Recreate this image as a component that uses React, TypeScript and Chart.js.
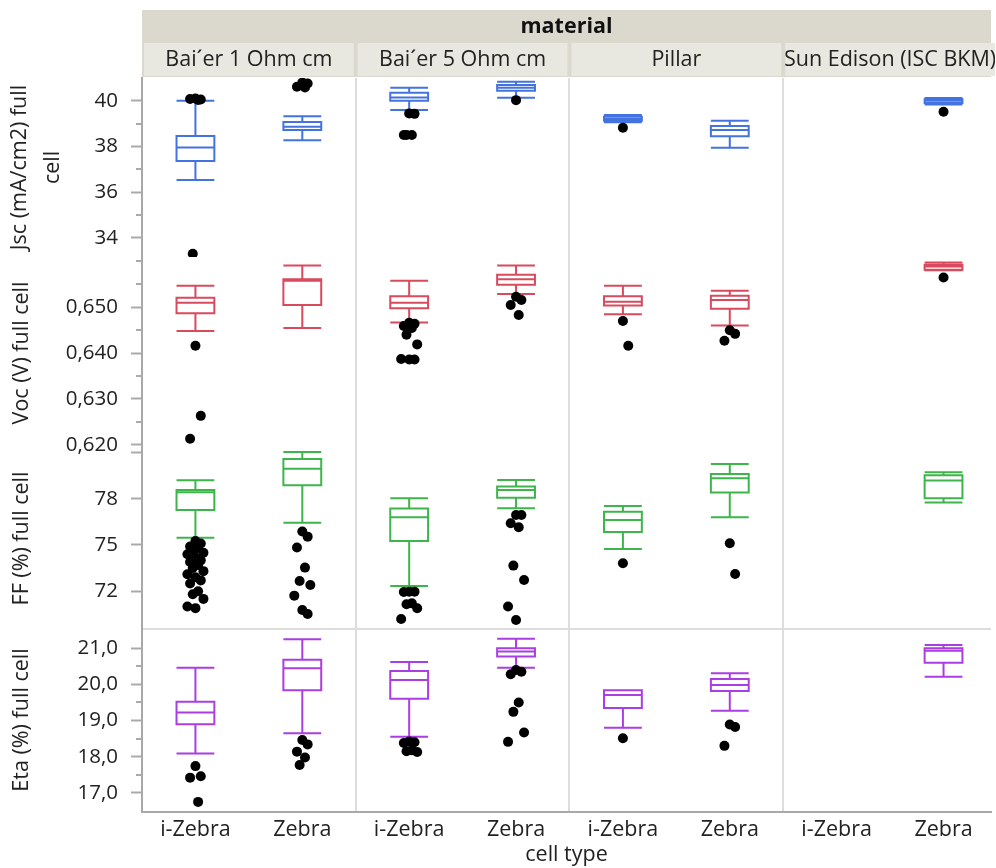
import { useEffect, useRef } from 'react';
import { Chart, registerables } from 'chart.js';

Chart.register(...registerables);

const FONT = '"Open Sans", "Noto Sans", sans-serif';

const materials = ['Bai´er 1 Ohm cm', 'Bai´er 5 Ohm cm', 'Pillar', 'Sun Edison (ISC BKM)'];
const cellTypes = ['i-Zebra', 'Zebra'];

// groups: material × cell type, in order; stats = [lowerWhisker, q1, median, q3, upperWhisker]
const jscBoxes = [
  [36.53, 37.37, 37.96, 38.46, 40.0],
  [38.27, 38.72, 38.87, 39.07, 39.33],
  [39.6, 40.0, 40.15, 40.35, 40.57],
  [40.14, 40.44, 40.57, 40.69, 40.84],
  [39.06, 39.13, 39.2, 39.3, 39.38],
  [37.95, 38.45, 38.72, 38.9, 39.13],
  null,
  [39.84, 39.9, 40.0, 40.07, 40.12],
];
const vocBoxes = [
  [0.6448, 0.6487, 0.651, 0.6521, 0.6547],
  [0.6455, 0.6505, 0.6558, 0.6561, 0.6591],
  [0.6467, 0.6498, 0.651, 0.6524, 0.6558],
  [0.6529, 0.6549, 0.6561, 0.6571, 0.6591],
  [0.6485, 0.6504, 0.6512, 0.6524, 0.6547],
  [0.646, 0.6497, 0.6516, 0.6525, 0.6536],
  null,
  [0.6581, 0.6582, 0.6589, 0.6593, 0.6598],
];
const ffBoxes = [
  [75.47, 77.27, 78.42, 78.57, 79.2],
  [76.45, 78.88, 79.94, 80.58, 81.04],
  [72.34, 75.26, 76.8, 77.36, 78.03],
  [77.38, 78.07, 78.57, 78.79, 79.22],
  [74.74, 75.84, 76.62, 77.16, 77.53],
  [76.8, 78.4, 79.33, 79.61, 80.26],
  null,
  [77.75, 78.03, 79.18, 79.53, 79.72],
];
const etaBoxes = [
  [18.09, 18.9, 19.22, 19.52, 20.46],
  [18.65, 19.84, 20.45, 20.68, 21.25],
  [18.55, 19.6, 20.12, 20.37, 20.62],
  [20.46, 20.77, 20.91, 21.0, 21.26],
  [18.8, 19.35, 19.71, 19.84, 19.84],
  [19.27, 19.82, 19.98, 20.15, 20.31],
  null,
  [20.21, 20.6, 20.93, 21.0, 21.09],
];

// outliers per group
const jscOutliers = [
  [40.1, 40.06, 40.08, 40.04, 33.3],
  [40.8, 40.76, 40.62, 40.58],
  [39.45, 39.43, 38.5, 38.5, 38.5],
  [40.03],
  [38.82],
  [],
  [],
  [39.52],
];
const vocOutliers = [
  [0.6416, 0.6263, 0.6213],
  [],
  [0.6466, 0.6464, 0.6459, 0.6455, 0.644, 0.6419, 0.6387, 0.6386, 0.6386],
  [0.6523, 0.6516, 0.6505, 0.6483],
  [0.647, 0.6416],
  [0.645, 0.6442, 0.6427],
  [],
  [0.6565],
];
const ffOutliers = [
  [75.25, 75.1, 74.9, 74.8, 74.6, 74.5, 74.4, 74.2, 74.0, 73.9, 73.7, 73.5, 73.3, 73.1, 72.9, 72.7, 72.5, 72.0, 71.8, 71.5, 71.0, 70.9],
  [75.87, 75.54, 74.83, 73.53, 72.66, 72.4, 71.71, 70.78, 70.52],
  [71.97, 71.97, 71.95, 71.21, 71.15, 70.89, 70.19],
  [76.95, 76.95, 76.41, 76.15, 73.66, 72.73, 71.0, 70.13],
  [73.81],
  [75.11, 73.12],
  [],
  [],
];
const etaOutliers = [
  [17.74, 17.46, 17.42, 16.75],
  [18.46, 18.34, 18.14, 17.98, 17.77],
  [18.42, 18.4, 18.38, 18.18, 18.15, 18.13],
  [20.4, 20.35, 20.28, 19.5, 19.24, 18.67, 18.41],
  [18.51],
  [18.89, 18.82, 18.3],
  [],
  [],
];

// axis ticks
const jscTicks = [34, 36, 38, 40];
const jscMinor = [35, 37, 39];
const vocTicks = [0.62, 0.63, 0.64, 0.65];
const vocMinor = [0.625, 0.635, 0.645, 0.655, 0.66];
const ffTicks = [72, 75, 78, 81];
const ffLabelled = [72, 75, 78];
const etaTicks = [17, 18, 19, 20, 21];
const etaMinor = [17.5, 18.5, 19.5, 20.5];

const metrics = [
  { id: 'yJsc', boxes: jscBoxes, outliers: jscOutliers, color: '#4373e0', minor: jscMinor },
  { id: 'yVoc', boxes: vocBoxes, outliers: vocOutliers, color: '#d84a5e', minor: vocMinor },
  { id: 'yFF', boxes: ffBoxes, outliers: ffOutliers, color: '#3db54a', minor: [] as number[] },
  { id: 'yEta', boxes: etaBoxes, outliers: etaOutliers, color: '#aa3ee2', minor: etaMinor },
];

const jitter = [0, 0.05, -0.05, 0.025, -0.025, 0.075, -0.075];
const BOX_W = 0.354;
const X_MAX = 8 - (2 * 6) / 215;
const TXT = 21.5;
const TICK = 20.5;

const panelPlugin = {
  id: 'panels',
  beforeDraw(chart: any) {
    const { ctx, chartArea, scales } = chart;
    const x = scales.x;
    ctx.save();
    ctx.fillStyle = '#dbd9cd';
    ctx.fillRect(chartArea.left, 10, chartArea.right - chartArea.left, 67);
    ctx.textAlign = 'center';
    ctx.textBaseline = 'middle';
    ctx.fillStyle = '#111';
    ctx.font = `bold ${TXT}px ${FONT}`;
    ctx.fillText('material', (chartArea.left + chartArea.right) / 2, 27);
    materials.forEach((m, i) => {
      const l = x.getPixelForValue(i * 2);
      const r = x.getPixelForValue(i * 2 + 2);
      ctx.fillStyle = '#e8e8e0';
      ctx.fillRect(l + 2, 43, r - l - 4, 33);
      ctx.save();
      ctx.beginPath();
      ctx.rect(l + 2, 43, r - l - 4, 33);
      ctx.clip();
      ctx.fillStyle = '#222';
      ctx.font = `${TXT}px ${FONT}`;
      ctx.fillText(m, (l + r) / 2, 60);
      ctx.restore();
    });
    ctx.strokeStyle = '#dddddd';
    ctx.lineWidth = 2;
    for (let i = 1; i < 4; i++) {
      const px = Math.round(x.getPixelForValue(i * 2));
      ctx.beginPath();
      ctx.moveTo(px, chartArea.top);
      ctx.lineTo(px, chartArea.bottom);
      ctx.stroke();
    }
    const eta = scales.yEta;
    ctx.beginPath();
    ctx.moveTo(chartArea.left, Math.round(eta.top) + 1);
    ctx.lineTo(chartArea.right, Math.round(eta.top) + 1);
    ctx.stroke();
    ctx.restore();
  },
  beforeDatasetsDraw(chart: any) {
    const { ctx, scales } = chart;
    const x = scales.x;
    const half = (x.getPixelForValue(BOX_W) - x.getPixelForValue(0)) / 2;
    ctx.save();
    ctx.lineWidth = 2;
    metrics.forEach((m) => {
      const y = scales[m.id];
      ctx.strokeStyle = m.color;
      m.boxes.forEach((b, i) => {
        if (!b) return;
        const cx = x.getPixelForValue(i + 0.5);
        const [lw, q1, med, q3, uw] = b.map((v: number) => y.getPixelForValue(v));
        ctx.beginPath();
        ctx.rect(cx - half, q3, half * 2, q1 - q3);
        ctx.moveTo(cx - half, med);
        ctx.lineTo(cx + half, med);
        ctx.moveTo(cx, q3);
        ctx.lineTo(cx, uw);
        ctx.moveTo(cx, q1);
        ctx.lineTo(cx, lw);
        ctx.moveTo(cx - half, uw);
        ctx.lineTo(cx + half, uw);
        ctx.moveTo(cx - half, lw);
        ctx.lineTo(cx + half, lw);
        ctx.stroke();
      });
    });
    ctx.restore();
  },
  afterDraw(chart: any) {
    const { ctx, scales } = chart;
    ctx.save();
    ctx.strokeStyle = '#aaaaaa';
    ctx.lineWidth = 2;
    metrics.forEach((m) => {
      const y = scales[m.id];
      m.minor.forEach((v) => {
        const py = Math.round(y.getPixelForValue(v));
        ctx.beginPath();
        ctx.moveTo(y.right - 6, py);
        ctx.lineTo(y.right, py);
        ctx.stroke();
      });
    });
    ctx.restore();
  },
};

function yAxis(opts: {
  min: number; max: number; ticks: number[]; label: (v: number) => string;
  title: string | string[]; weight: number; stackWeight: number; titlePad: number; lineHeight?: number;
}) {
  return {
    type: 'linear',
    position: 'left',
    stack: 'rows',
    stackWeight: opts.stackWeight,
    weight: opts.weight,
    min: opts.min,
    max: opts.max,
    afterBuildTicks: (s: any) => {
      s.ticks = opts.ticks.map((v) => ({ value: v }));
    },
    afterFit: (s: any) => {
      s.width = 142;
    },
    grid: { drawOnChartArea: false, drawTicks: true, tickLength: 11, tickWidth: 2, tickColor: '#aaaaaa' },
    border: { display: true, color: '#a8a8a8', width: 2 },
    ticks: {
      autoSkip: false,
      padding: 13,
      color: '#222',
      font: { family: FONT, size: TICK },
      callback: (v: any) => opts.label(Number(v)),
    },
    title: {
      display: true,
      text: opts.title,
      color: '#222',
      font: { family: FONT, size: TXT, lineHeight: opts.lineHeight ?? 1.2 },
      padding: { top: opts.titlePad, bottom: 0 },
    },
  };
}

export default function App() {
  const ref = useRef<HTMLCanvasElement | null>(null);
  useEffect(() => {
    if (!ref.current) return;
    const datasets = metrics.map((m) => ({
      label: m.id,
      yAxisID: m.id,
      data: m.outliers.flatMap((vals, g) =>
        vals.map((v, k) => ({ x: g + 0.5 + jitter[k % jitter.length], y: v }))
      ),
      pointRadius: 5,
      pointBackgroundColor: '#000',
      pointBorderWidth: 0,
      showLine: false,
    }));
    const chart = new Chart(ref.current, {
      type: 'scatter',
      data: { datasets },
      plugins: [panelPlugin],
      options: {
        animation: false,
        responsive: false,
        layout: { padding: { top: 78, left: 0, right: 0, bottom: 0 } },
        plugins: { legend: { display: false }, tooltip: { enabled: false } },
        scales: {
          x: {
            type: 'linear',
            min: 0,
            max: X_MAX,
            afterBuildTicks: (s: any) => {
              s.ticks = [0.5, 1.5, 2.5, 3.5, 4.5, 5.5, 6.5, 7.5].map((v) => ({ value: v }));
            },
            afterFit: (s: any) => {
              s.height = 56;
            },
            grid: { display: false, drawTicks: false },
            border: { display: true, color: '#a8a8a8', width: 2 },
            ticks: {
              autoSkip: false,
              maxRotation: 0,
              padding: 5,
              color: '#222',
              font: { family: FONT, size: TXT },
              callback: (v: any) => cellTypes[Math.round(Number(v) - 0.5) % 2],
            },
            title: {
              display: true,
              text: 'cell type',
              color: '#222',
              font: { family: FONT, size: TXT },
              padding: { top: 0, bottom: 0 },
            },
          },
          yEta: yAxis({
            min: 16.47, max: 21.56, ticks: etaTicks, label: (v) => v.toFixed(1).replace('.', ','),
            title: 'Eta (%) full cell', weight: 1, stackWeight: 184, titlePad: 9,
          }),
          yFF: yAxis({
            min: 69.61, max: 81.23, ticks: ffTicks,
            label: (v) => (ffLabelled.includes(v) ? String(v) : ''),
            title: 'FF (%) full cell', weight: 2, stackWeight: 179, titlePad: 9,
          }),
          yVoc: yAxis({
            min: 0.61906, max: 0.66098, ticks: vocTicks, label: (v) => v.toFixed(3).replace('.', ','),
            title: 'Voc (V) full cell', weight: 3, stackWeight: 192, titlePad: 9,
          }),
          yJsc: yAxis({
            min: 33.16, max: 41.0, ticks: jscTicks, label: (v) => String(v),
            title: ['Jsc (mA/cm2) full', 'cell'], weight: 4, stackWeight: 179, titlePad: 3, lineHeight: 1.55,
          }),
        } as any,
      },
    });
    return () => chart.destroy();
  }, []);
  return (
    <div style={{ position: 'absolute', left: 0, top: 0, width: 996, height: 868 }}>
      <canvas ref={ref} width={996} height={868} style={{ display: 'block' }} />
    </div>
  );
}
